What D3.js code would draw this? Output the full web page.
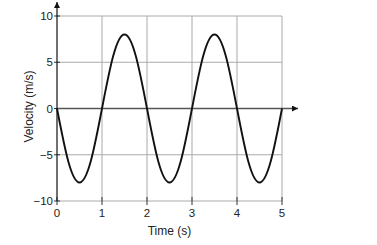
<!DOCTYPE html>
<html>
<head>
<meta charset="utf-8">
<script src="https://cdn.jsdelivr.net/npm/d3@7"></script>
<style>
body { margin: 0; background: #fff; }
text { font-family: "Liberation Sans", Arial, sans-serif; fill: #222; }
</style>
</head>
<body>
<svg id="chart" width="377" height="245"></svg>
<script>
// time (s) and velocity (m/s)
var times = [0, 0.25, 0.5, 0.75, 1, 1.25, 1.5, 1.75, 2, 2.25, 2.5, 2.75, 3, 3.25, 3.5, 3.75, 4, 4.25, 4.5, 4.75, 5];
var velocity = [0, -5.7, -8, -5.7, 0, 5.7, 8, 5.7, 0, -5.7, -8, -5.7, 0, 5.7, 8, 5.7, 0, -5.7, -8, -5.7, 0];
var xTicks = [0, 1, 2, 3, 4, 5];
var yTicks = [-10, -5, 0, 5, 10];

var data = times.map(function(t, i) { return {t: t, v: velocity[i]}; });

var svg = d3.select("#chart");

var x = d3.scaleLinear().domain([0, 5]).range([57, 282]);
var y = d3.scaleLinear().domain([-10, 10]).range([201, 16]);

// grid
var grid = svg.append("g");
grid.selectAll(".gx")
  .data(xTicks.filter(function(d) { return d > 0; }))
  .enter().append("line")
    .attr("x1", function(d) { return x(d); })
    .attr("x2", function(d) { return x(d); })
    .attr("y1", y(10))
    .attr("y2", y(-10))
    .style("stroke", "#aaa")
    .style("stroke-width", 1);
grid.selectAll(".gy")
  .data(yTicks.filter(function(d) { return d != 0; }))
  .enter().append("line")
    .attr("x1", x(0))
    .attr("x2", x(5))
    .attr("y1", function(d) { return y(d); })
    .attr("y2", function(d) { return y(d); })
    .style("stroke", "#aaa")
    .style("stroke-width", 1);

// x ticks below bottom line
svg.selectAll(".xt")
  .data(xTicks)
  .enter().append("line")
    .attr("x1", function(d) { return x(d); })
    .attr("x2", function(d) { return x(d); })
    .attr("y1", y(-10) - 4)
    .attr("y2", y(-10) + 4)
    .style("stroke", "#333")
    .style("stroke-width", 1);

svg.selectAll(".xl")
  .data(xTicks)
  .enter().append("text")
    .attr("x", function(d) { return x(d); })
    .attr("y", y(-10) + 16)
    .attr("text-anchor", "middle")
    .style("font-size", "11.5px")
    .text(function(d) { return d; });

// y ticks
svg.selectAll(".yt")
  .data(yTicks)
  .enter().append("line")
    .attr("x1", x(0) - 3)
    .attr("x2", x(0) + 3)
    .attr("y1", function(d) { return y(d); })
    .attr("y2", function(d) { return y(d); })
    .style("stroke", "#333")
    .style("stroke-width", 1);

svg.selectAll(".yl")
  .data(yTicks)
  .enter().append("text")
    .attr("x", x(0) - 4)
    .attr("y", function(d) { return y(d) + 4; })
    .attr("text-anchor", "end")
    .style("font-size", "11.5px")
    .text(function(d) { return d < 0 ? "\u2212" + Math.abs(d) : d; });

// arrow heads
var defs = svg.append("defs");
defs.append("marker")
    .attr("id", "arrow")
    .attr("viewBox", "0 0 10 10")
    .attr("refX", 10)
    .attr("refY", 5)
    .attr("markerWidth", 9)
    .attr("markerHeight", 6)
    .attr("markerUnits", "userSpaceOnUse")
    .attr("orient", "auto")
  .append("path")
    .attr("d", "M0,0 L10,5 L0,10 Z")
    .attr("fill", "#111");

// x axis at zero
svg.append("line")
    .attr("x1", x(0))
    .attr("x2", 298)
    .attr("y1", y(0))
    .attr("y2", y(0))
    .attr("marker-end", "url(#arrow)")
    .style("stroke", "#555")
    .style("stroke-width", 1.3);

// y axis
svg.append("line")
    .attr("x1", x(0))
    .attr("x2", x(0))
    .attr("y1", y(-10))
    .attr("y2", 2)
    .attr("marker-end", "url(#arrow)")
    .style("stroke", "#111")
    .style("stroke-width", 1.2);

// curve
var line = d3.line()
    .x(function(d) { return x(d.t); })
    .y(function(d) { return y(d.v); })
    .curve(d3.curveNatural);

svg.append("path")
    .datum(data)
    .attr("d", line)
    .attr("fill", "none")
    .style("stroke", "#111")
    .style("stroke-width", 1.9);

// axis titles
svg.append("text")
    .attr("x", x(2.5))
    .attr("y", 235)
    .attr("text-anchor", "middle")
    .style("font-size", "12px")
    .text("Time (s)");

svg.append("text")
    .attr("transform", "translate(33," + (y(0) - 2) + ") rotate(-90)")
    .attr("text-anchor", "middle")
    .style("font-size", "12px")
    .text("Velocity (m/s)");
</script>
</body>
</html>
